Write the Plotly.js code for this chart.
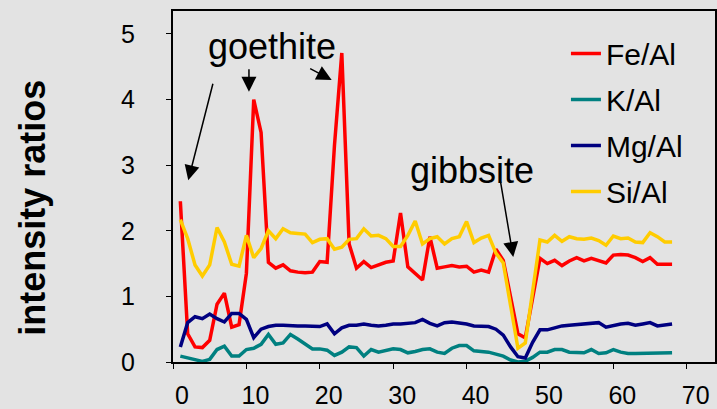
<!DOCTYPE html>
<html><head><meta charset="utf-8">
<script src="https://cdn.plot.ly/plotly-3.0.1.min.js"></script>
<style>html,body{margin:0;padding:0;background:#e3e3e3;}#chart{width:717px;height:409px;}</style>
</head><body><div id="chart"></div>
<script>
const sampleNo = [1,2,3,4,5,6,7,8,9,10,11,12,13,14,15,16,17,18,19,20,21,22,23,24,25,26,27,28,29,30,31,32,33,34,
  35,36,37,38,39,40,41,42,43,44,45,46,47,48,49,50,51,52,53,54,55,56,57,58,59,60,61,62,63,64,65,66,67,68];
const feAl = [2.45,0.43,0.23,0.22,0.33,0.88,1.05,0.53,0.57,1.35, 4.0,3.5,1.52,1.43,1.48,1.39,1.37,1.36,1.37,1.53,
  1.52,3.3,4.71,1.8,1.43,1.53,1.44,1.48,1.52,1.54, 2.27,1.45,1.35,1.25,1.91,1.43,1.45,1.47,1.45,1.46,
  1.37,1.40,1.37,1.72,1.55,1.0,0.43,0.37,0.97,1.58, 1.5,1.55,1.47,1.54,1.59,1.54,1.58,1.55,1.51,1.63,
  1.64,1.63,1.59,1.53,1.59,1.49,1.49,1.49];
const kAl = [0.09,0.06,0.04,0.01,0.04,0.19,0.24,0.09,0.09,0.19, 0.21,0.27,0.42,0.27,0.29,0.42,0.35,0.28,0.2,0.2,
  0.18,0.1,0.15,0.23,0.22,0.09,0.19,0.15,0.18,0.2, 0.19,0.14,0.16,0.19,0.2,0.15,0.13,0.21,0.25,0.25,
  0.17,0.16,0.15,0.12,0.09,0.03,0.0,0.01,0.07,0.15, 0.15,0.19,0.19,0.15,0.14,0.14,0.19,0.13,0.14,0.19,
  0.15,0.13,0.13,0.13,0.13,0.14,0.14,0.14];
const mgAl = [0.23,0.6,0.69,0.66,0.73,0.66,0.61,0.74,0.74,0.65, 0.37,0.5,0.54,0.56,0.56,0.55,0.55,0.55,0.55,0.54,
  0.58,0.43,0.52,0.56,0.56,0.58,0.56,0.55,0.56,0.58, 0.58,0.59,0.6,0.65,0.59,0.55,0.6,0.61,0.6,0.58,
  0.55,0.55,0.54,0.5,0.41,0.23,0.08,0.06,0.3,0.49, 0.49,0.52,0.55,0.56,0.57,0.58,0.58,0.6,0.53,0.56,
  0.58,0.59,0.56,0.58,0.6,0.55,0.57,0.58];
const siAl = [2.17,1.88,1.48,1.31,1.48,2.05,1.83,1.49,1.46,1.93, 1.59,1.73,2.0,1.88,2.03,1.97,1.96,1.95,1.82,1.87,
  1.88,1.72,1.75,1.87,1.88,2.03,1.92,1.93,1.88,1.76, 1.76,1.93,2.15,1.8,1.88,1.91,1.8,1.88,1.91,2.14,
  1.82,1.89,1.93,1.66,1.51,0.84,0.21,0.29,1.08,1.86, 1.83,1.93,1.84,1.91,1.88,1.87,1.89,1.85,1.78,1.92,
  1.88,1.89,1.83,1.82,1.97,1.91,1.83,1.83];
const seriesNames = ['Fe/Al','K/Al','Mg/Al','Si/Al'];
const xTickVals = [0,10,20,30,40,50,60,70];
const yTickVals = [0,1,2,3,4,5];

const FONT = '"Liberation Sans", Arial, sans-serif';
const colors = ['#FF0000','#008080','#000080','#FFCC00'];
const ys = [feAl,kAl,mgAl,siAl];
const traces = ys.map((y,i)=>({
  type:'scatter', mode:'lines', x:sampleNo, y:y, name:seriesNames[i],
  legendgroup:'g'+i,
  line:{color:colors[i], width:3.5}, hoverinfo:'skip'
}));

function arrow(x,y,ax,ay){
  return {xref:'x',yref:'y',x:x,y:y,ax:ax,ay:ay,text:'',showarrow:true,
    arrowhead:2,arrowsize:2,arrowwidth:1.5,arrowcolor:'#000',standoff:0,startstandoff:0};
}

const layout = {
  width:717, height:409,
  margin:{l:173,r:2,t:11,b:47,pad:0},
  paper_bgcolor:'#e3e3e3', plot_bgcolor:'#e3e3e3',
  showlegend:true,
  xaxis:{range:[0,73.85], tickmode:'array', tickvals:xTickVals, showgrid:false, zeroline:false,
    showline:true, mirror:true, linecolor:'#000', linewidth:2,
    ticks:'outside', ticklen:5, tickwidth:1, tickcolor:'#000',
    tickfont:{family:FONT,size:25,color:'#000'}, ticklabelshift:9, ticklabelstandoff:5},
  yaxis:{range:[0,5.35], tickmode:'array', tickvals:yTickVals, showgrid:false, zeroline:false,
    showline:true, mirror:true, linecolor:'#000', linewidth:2,
    ticks:'outside', ticklen:5, tickwidth:1, tickcolor:'#000',
    tickfont:{family:FONT,size:25,color:'#000'}, ticklabelstandoff:26},
  legend:{x:0.725, y:0.953, xanchor:'left', yanchor:'top', bgcolor:'rgba(0,0,0,0)',
    font:{family:FONT,size:30,color:'#000'}, tracegroupgap:4},
  annotations:[
    {xref:'paper',yref:'paper',x:-0.2607,y:0.4387,xanchor:'center',yanchor:'middle',textangle:-90,
      text:'<b>intensity ratios</b>',showarrow:false,font:{family:FONT,size:36,color:'#000'}},
    {xref:'paper',yref:'paper',x:0.1827,y:0.9,xanchor:'center',yanchor:'middle',
      text:'goethite',showarrow:false,font:{family:FONT,size:36,color:'#000'}},
    {xref:'paper',yref:'paper',x:0.551,y:0.547,xanchor:'center',yanchor:'middle',
      text:'gibbsite',showarrow:false,font:{family:FONT,size:36,color:'#000'}},
    arrow(2.08,2.77,25,-98),
    arrow(10.35,4.12,0,-24),
    arrow(21.62,4.30,-23,-12),
    arrow(46.36,1.60,-13,-77)
  ]
};
Plotly.newPlot('chart', traces, layout, {staticPlot:true, displayModeBar:false});
</script>
</body></html>
